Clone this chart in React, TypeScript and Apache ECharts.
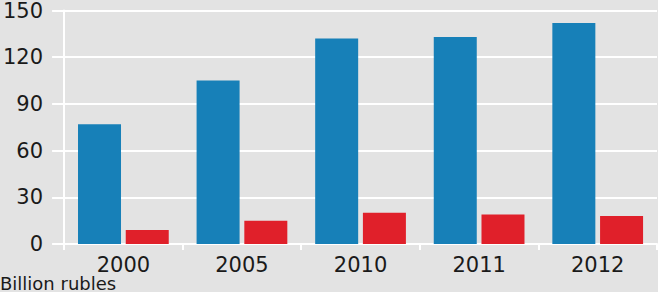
import React, { useEffect, useRef } from "react";
import * as echarts from "echarts";

const categories = ["2000", "2005", "2010", "2011", "2012"];
const blueValues = [77, 105, 132, 133, 142];
const redValues = [9, 15, 20, 19, 18];
const yTicks = { min: 0, max: 150, interval: 30 };
const unitLabel = "Billion rubles";

export default function App() {
  const ref = useRef<HTMLDivElement>(null);
  useEffect(() => {
    document.body.style.margin = "0";
    const chart = echarts.init(ref.current!, null, { renderer: "svg" });
    const font = "DejaVu Sans";
    chart.setOption({
      animation: false,
      backgroundColor: "#e3e3e3",
      grid: { left: 64, right: 1, top: 6, bottom: 48 },
      xAxis: {
        type: "category",
        data: categories,
        axisLine: { show: true, lineStyle: { color: "#ffffff", width: 2 } },
        axisTick: { show: true, length: 6, lineStyle: { color: "#ffffff", width: 2 } },
        axisLabel: { color: "#1a1a1a", fontFamily: font, fontSize: 21, lineHeight: 19, margin: 11 },
      },
      yAxis: {
        type: "value",
        min: yTicks.min,
        max: yTicks.max,
        interval: yTicks.interval,
        axisLine: { show: true, lineStyle: { color: "#ffffff", width: 2 } },
        axisTick: { show: true, length: 12, lineStyle: { color: "#ffffff", width: 2 } },
        splitLine: { show: true, lineStyle: { color: "#ffffff", width: 2 } },
        axisLabel: { color: "#1a1a1a", fontFamily: font, fontSize: 21, margin: 21 },
      },
      series: [
        {
          type: "bar",
          data: blueValues,
          barWidth: 43,
          barGap: "11%",
          itemStyle: { color: "#1780b8" },
        },
        {
          type: "bar",
          data: redValues,
          barWidth: 43,
          itemStyle: { color: "#e0202a" },
        },
      ],
      graphic: [
        {
          type: "text",
          left: 0,
          bottom: 0,
          style: { text: unitLabel, fontFamily: font, fontSize: 18, lineHeight: 18, fill: "#1a1a1a" },
        },
      ],
    });
    return () => chart.dispose();
  }, []);
  return <div ref={ref} style={{ width: 658, height: 292 }} />;
}
